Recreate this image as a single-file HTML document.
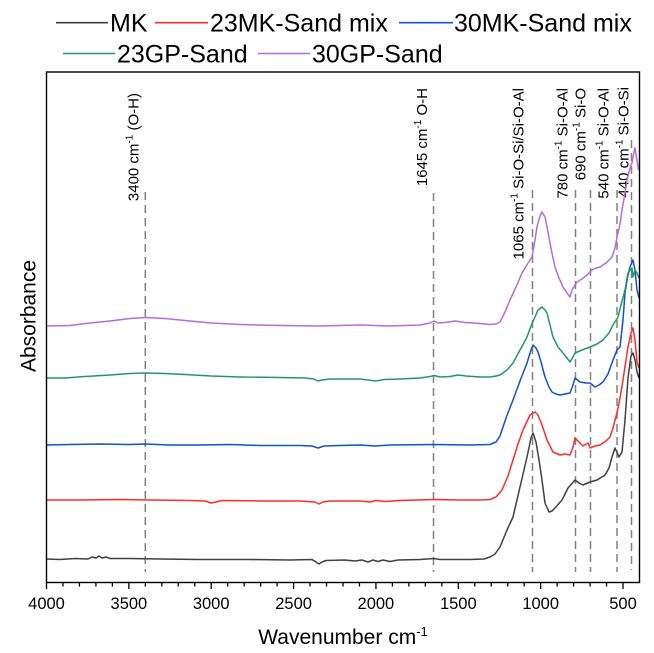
<!DOCTYPE html>
<html>
<head>
<meta charset="utf-8">
<style>
html,body{margin:0;padding:0;background:#fff;}
svg{display:block;}
text{font-family:"Liberation Sans",Arial,sans-serif;fill:#000;}
</style>
</head>
<body>
<svg width="654" height="653" viewBox="0 0 654 653" xmlns="http://www.w3.org/2000/svg">
<rect x="0" y="0" width="654" height="653" fill="#fff"/>

<!-- Legend -->
<g font-size="25">
  <line x1="56" y1="22.7" x2="108" y2="22.7" stroke="#404040" stroke-width="1.6"/>
  <text x="110" y="31.5">MK</text>
  <line x1="155" y1="22.7" x2="208" y2="22.7" stroke="#ff2b2b" stroke-width="1.6"/>
  <text x="210" y="31.5">23MK-Sand mix</text>
  <line x1="399" y1="22.7" x2="453" y2="22.7" stroke="#1150d0" stroke-width="1.6"/>
  <text x="454" y="31.5">30MK-Sand mix</text>
  <line x1="63" y1="53.5" x2="115" y2="53.5" stroke="#1f9a62" stroke-width="1.6"/>
  <text x="117" y="62.5">23GP-Sand</text>
  <line x1="258" y1="53.5" x2="310" y2="53.5" stroke="#b46cdb" stroke-width="1.6"/>
  <text x="312" y="62.5">30GP-Sand</text>
</g>

<!-- Dashed reference lines -->
<g stroke="#808080" stroke-width="1.5" stroke-dasharray="8 5" fill="none">
  <line x1="145.3" y1="192" x2="145.3" y2="572"/>
  <line x1="433.5" y1="193" x2="433.5" y2="572"/>
  <line x1="532.5" y1="190" x2="532.5" y2="572"/>
  <line x1="575.5" y1="190" x2="575.5" y2="572"/>
  <line x1="590.5" y1="190" x2="590.5" y2="572"/>
  <line x1="617" y1="190" x2="617" y2="572"/>
  <line x1="631.5" y1="140" x2="631.5" y2="570"/>
</g>

<!-- Annotations -->
<g font-size="15" text-anchor="end">
  <text transform="translate(138.5,93) rotate(-90)">3400 cm<tspan font-size="10" dy="-6">-1</tspan><tspan dy="6"> (O-H)</tspan></text>
  <text transform="translate(427,88) rotate(-90)">1645 cm<tspan font-size="10" dy="-6">-1</tspan><tspan dy="6"> O-H</tspan></text>
  <text transform="translate(523.5,88) rotate(-90)">1065 cm<tspan font-size="10" dy="-6">-1</tspan><tspan dy="6"> Si-O-Si/Si-O-Al</tspan></text>
  <text transform="translate(567.5,88) rotate(-90)">780 cm<tspan font-size="10" dy="-6">-1</tspan><tspan dy="6"> Si-O-Al</tspan></text>
  <text transform="translate(585.5,88) rotate(-90)">690 cm<tspan font-size="10" dy="-6">-1</tspan><tspan dy="6"> Si-O</tspan></text>
  <text transform="translate(608.5,88) rotate(-90)">540 cm<tspan font-size="10" dy="-6">-1</tspan><tspan dy="6"> Si-O-Al</tspan></text>
  <text transform="translate(628.5,87) rotate(-90)">440 cm<tspan font-size="10" dy="-6">-1</tspan><tspan dy="6"> Si-O-Si</tspan></text>
</g>

<!-- Curves -->
<g fill="none" stroke-width="1.5" stroke-linejoin="round">
  <polyline stroke="#404040" points="46.5,559 60,559.5 75,558.5 88,559 92,557 96,558 99,556 102,558 106,557 110,558.5 130,558.5 160,559 200,559.5 250,559.5 290,560 312,559.5 316,562 319,564 322,562 326,560.5 345,560 355,561 362,560 368,562 373,560 378,561.5 383,560 390,561.5 398,560 420,559.5 434,558.5 440,559.5 470,559.5 484,559 490,557 495,554 500,547 507,530 513,517 520,487 527,457 531,438 533,433 536,442 539,460 542,480 545,503 549,512 552,511 555,508 562,500 568,488 575,480 579,483 583,485 590,482 597,480 605,475 609,468 612,457 615,448 619,457 622,452 625,420 628,378 631,356 633,353 635,360 637,372 639,378"/>
  <polyline stroke="#ff2b2b" points="46.5,500 80,500 120,499.5 150,500 190,500.5 205,501 211,503 216,502 222,500.5 260,501 300,501 315,502 319,504 323,502 330,501 360,501 370,502 376,500.5 385,501.5 400,500.5 434,499.5 460,500 480,500 490,499.5 496,497 502,490 508,476 513,460 518,444 523,430 530,415 535,412 538,415 542,425 547,440 553,452 560,455 565,454 570,455 573,447 575,438 578,441 583,446 588,443 590,448 595,446 600,445 606,441 610,437 613,428 615,420 617,413 620,398 623,380 626,360 628,347 631,333 633,328 635,340 637,362 639,368"/>
  <polyline stroke="#1150d0" points="46.5,445 70,444.5 100,444 130,444.5 145,444 170,445 200,445 230,444.5 260,445.5 300,445.5 312,446 318,448 324,446 340,445.5 360,445 375,446 390,445 434,444.5 470,445 490,444.5 496,442 500,436 506,418 513,400 520,381 527,363 531,350 533,345 536,348 538,352 541,362 545,377 549,387 552,392 556,394 560,395 565,394 570,393 573,385 575,378 580,382 586,383 590,383 595,387 599,385 603,382 608,374 613,360 617,350 620,347 623,320 625,293 628,275 630,267 633,260 635,270 637,290 639,298"/>
  <polyline stroke="#1f9a62" points="46.5,378 65,378 85,376.5 110,375 130,373.5 145,373 165,373.5 185,374.5 211,376 240,377 280,377.5 305,378 314,379 318,381 322,380 330,379 360,379 368,380 376,381 384,379.5 400,379 420,378 430,376.5 434,375.5 440,377 450,376.5 458,375 466,376 480,377 490,377 496,376 500,375 507,370 513,363 520,350 527,337 531,326 535,317 538,310 542,307 545,310 547,313 550,325 553,337 558,347 563,353 567,358 570,362 573,357 575,353 582,350 590,347 597,344 603,340 609,333 613,325 618,317 621,305 625,290 628,273 630,270 632,268 633,277 635,270 637,273 639,278"/>
  <polyline stroke="#b46cdb" points="46.5,326 70,325.5 90,323 110,321 130,318.5 145,317.5 165,318.5 185,320.5 211,323 240,324.5 280,325.5 318,326 340,325.5 360,325 390,326 420,325 430,323 434,321 438,323 445,322.5 455,321 465,322.5 480,323.5 490,324.5 496,324 500,322 505,312 510,300 516,287 522,273 528,263 532,257 535,240 537,227 540,216 542,212 545,217 548,232 550,243 553,258 555,267 559,278 563,287 567,293 570,297 572,290 575,285 577,282 582,279 587,275 592,270 596,268 600,267 606,263 612,257 615,248 617,237 620,224 622,210 625,193 627,180 630,168 632,163 634,152 635,148 637,160 638.5,170"/>
</g>

<!-- Frame -->
<rect x="46.5" y="72" width="593" height="510.5" fill="none" stroke="#000" stroke-width="1.4"/>

<!-- Ticks -->
<g stroke="#000" stroke-width="1.3">
  <line x1="46.5" y1="582.5" x2="46.5" y2="589"/>
  <line x1="62.97" y1="582.5" x2="62.97" y2="586.5"/>
  <line x1="79.44" y1="582.5" x2="79.44" y2="586.5"/>
  <line x1="95.92" y1="582.5" x2="95.92" y2="586.5"/>
  <line x1="112.39" y1="582.5" x2="112.39" y2="586.5"/>
  <line x1="128.86" y1="582.5" x2="128.86" y2="589"/>
  <line x1="145.33" y1="582.5" x2="145.33" y2="586.5"/>
  <line x1="161.80" y1="582.5" x2="161.80" y2="586.5"/>
  <line x1="178.28" y1="582.5" x2="178.28" y2="586.5"/>
  <line x1="194.75" y1="582.5" x2="194.75" y2="586.5"/>
  <line x1="211.22" y1="582.5" x2="211.22" y2="589"/>
  <line x1="227.69" y1="582.5" x2="227.69" y2="586.5"/>
  <line x1="244.16" y1="582.5" x2="244.16" y2="586.5"/>
  <line x1="260.64" y1="582.5" x2="260.64" y2="586.5"/>
  <line x1="277.11" y1="582.5" x2="277.11" y2="586.5"/>
  <line x1="293.58" y1="582.5" x2="293.58" y2="589"/>
  <line x1="310.05" y1="582.5" x2="310.05" y2="586.5"/>
  <line x1="326.52" y1="582.5" x2="326.52" y2="586.5"/>
  <line x1="343.00" y1="582.5" x2="343.00" y2="586.5"/>
  <line x1="359.47" y1="582.5" x2="359.47" y2="586.5"/>
  <line x1="375.94" y1="582.5" x2="375.94" y2="589"/>
  <line x1="392.41" y1="582.5" x2="392.41" y2="586.5"/>
  <line x1="408.88" y1="582.5" x2="408.88" y2="586.5"/>
  <line x1="425.36" y1="582.5" x2="425.36" y2="586.5"/>
  <line x1="441.83" y1="582.5" x2="441.83" y2="586.5"/>
  <line x1="458.30" y1="582.5" x2="458.30" y2="589"/>
  <line x1="474.77" y1="582.5" x2="474.77" y2="586.5"/>
  <line x1="491.24" y1="582.5" x2="491.24" y2="586.5"/>
  <line x1="507.72" y1="582.5" x2="507.72" y2="586.5"/>
  <line x1="524.19" y1="582.5" x2="524.19" y2="586.5"/>
  <line x1="540.66" y1="582.5" x2="540.66" y2="589"/>
  <line x1="557.13" y1="582.5" x2="557.13" y2="586.5"/>
  <line x1="573.60" y1="582.5" x2="573.60" y2="586.5"/>
  <line x1="590.08" y1="582.5" x2="590.08" y2="586.5"/>
  <line x1="606.55" y1="582.5" x2="606.55" y2="586.5"/>
  <line x1="623.02" y1="582.5" x2="623.02" y2="589"/>
</g>

<!-- Tick labels -->
<g font-size="16.5" text-anchor="middle">
  <text x="46.5" y="609">4000</text>
  <text x="128.9" y="609">3500</text>
  <text x="211.2" y="609">3000</text>
  <text x="293.6" y="609">2500</text>
  <text x="375.9" y="609">2000</text>
  <text x="458.3" y="609">1500</text>
  <text x="540.7" y="609">1000</text>
  <text x="623" y="609">500</text>
</g>

<!-- Axis titles -->
<text x="343" y="644" font-size="21" text-anchor="middle">Wavenumber cm<tspan font-size="13" dy="-8">-1</tspan></text>
<text transform="translate(35.5,316) rotate(-90)" font-size="21" text-anchor="middle">Absorbance</text>
</svg>
</body>
</html>
